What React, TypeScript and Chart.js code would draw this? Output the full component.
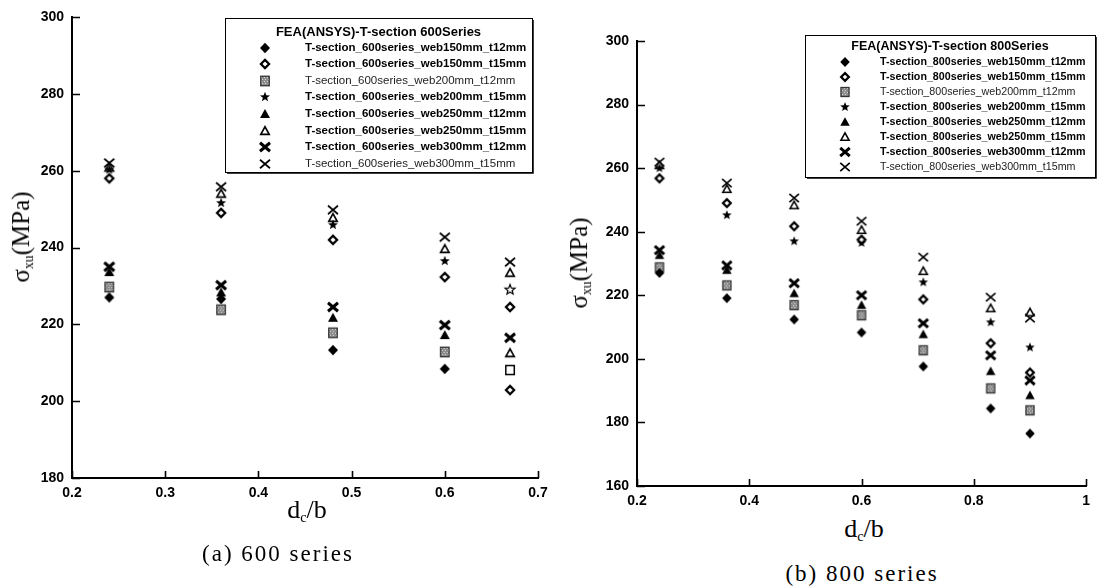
import React, { useEffect, useRef } from "react";
import { Chart, registerables } from "chart.js";

Chart.register(...registerables);

// ---- data -------------------------------------------------------------
// d_c/b positions of the analysed sections
const dcb600 = [0.24, 0.36, 0.48, 0.6, 0.67];
const dcb800 = [0.24, 0.36, 0.48, 0.6, 0.71, 0.83, 0.9];

const labels600 = [
  "T-section_600series_web150mm_t12mm",
  "T-section_600series_web150mm_t15mm",
  "T-section_600series_web200mm_t12mm",
  "T-section_600series_web200mm_t15mm",
  "T-section_600series_web250mm_t12mm",
  "T-section_600series_web250mm_t15mm",
  "T-section_600series_web300mm_t12mm",
  "T-section_600series_web300mm_t15mm",
];
const labels800 = [
  "T-section_800series_web150mm_t12mm",
  "T-section_800series_web150mm_t15mm",
  "T-section_800series_web200mm_t12mm",
  "T-section_800series_web200mm_t15mm",
  "T-section_800series_web250mm_t12mm",
  "T-section_800series_web250mm_t15mm",
  "T-section_800series_web300mm_t12mm",
  "T-section_800series_web300mm_t15mm",
];

// σxu (MPa) — 600 series
const s600_web150_t12 = [227, 226.6, 213.3, 208.4, 202.9];
const s600_web150_t15 = [258, 249, 242, 232.3, 224.5];
const s600_web200_t12 = [229.7, 223.8, 217.8, 212.8, 208.1];
const s600_web200_t15 = [260.3, 251.6, 245.9, 236.5, 229];
const s600_web250_t12 = [233.6, 228.3, 221.7, 217.2, 212.5];
const s600_web250_t15 = [260.8, 254, 247.7, 239.6, 233.4];
const s600_web300_t12 = [235, 230.2, 224.5, 219.8, 216.5];
const s600_web300_t15 = [262, 255.8, 249.8, 242.7, 236.2];

// σxu (MPa) — 800 series
const s800_web150_t12 = [227, 219.1, 212.4, 208.3, 197.6, 184.4, 176.5];
const s800_web150_t15 = [256.8, 249, 241.7, 237.5, 218.7, 204.9, 195.7];
const s800_web200_t12 = [228.8, 223.1, 216.9, 213.7, 202.7, 190.7, 183.8];
const s800_web200_t15 = [260, 245.2, 237, 236.5, 224.1, 211.5, 203.6];
const s800_web250_t12 = [232.6, 227.9, 220.6, 216.9, 207.7, 196.1, 188.5];
const s800_web250_t15 = [260.9, 253.4, 248.3, 240.5, 227.6, 215.9, 214.6];
const s800_web300_t12 = [234.2, 229.4, 223.8, 220, 211.2, 201.1, 193.2];
const s800_web300_t15 = [261.9, 255.3, 250.6, 243.3, 232, 219.4, 212.8];

const values600 = [
  s600_web150_t12, s600_web150_t15, s600_web200_t12, s600_web200_t15,
  s600_web250_t12, s600_web250_t15, s600_web300_t12, s600_web300_t15,
];
const values800 = [
  s800_web150_t12, s800_web150_t15, s800_web200_t12, s800_web200_t15,
  s800_web250_t12, s800_web250_t15, s800_web300_t12, s800_web300_t15,
];

// points of the 600 series drawn with hollow symbols
const hollowDcb600 = [0.67];

// ---- markers ----------------------------------------------------------
type Kind =
  | "diamond" | "diamondOpen" | "square" | "squareOpen" | "star" | "starOpen"
  | "triangle" | "triangleOpen" | "xBold" | "xThin";

const seriesKinds: Kind[] = [
  "diamond", "diamondOpen", "square", "star", "triangle", "triangleOpen", "xBold", "xThin",
];
const hollowOf: Partial<Record<Kind, Kind>> = {
  diamond: "diamondOpen", square: "squareOpen", star: "starOpen", triangle: "triangleOpen",
};

function drawMarker(kind: Kind, size: number): HTMLCanvasElement {
  const n = Math.ceil(size) + 6;
  const c = document.createElement("canvas");
  c.width = n;
  c.height = n;
  const g = c.getContext("2d")!;
  const cx = n / 2, cy = n / 2, r = size / 2;
  g.fillStyle = "#000";
  g.strokeStyle = "#000";
  const poly = (pts: number[][]) => {
    g.beginPath();
    pts.forEach(([x, y], i) => (i ? g.lineTo(x, y) : g.moveTo(x, y)));
    g.closePath();
  };
  switch (kind) {
    case "diamond":
      poly([[cx, cy - r * 1.05], [cx + r, cy], [cx, cy + r * 1.05], [cx - r, cy]]);
      g.fill();
      break;
    case "diamondOpen": {
      const q = r * 0.82;
      poly([[cx, cy - q], [cx + q, cy], [cx, cy + q], [cx - q, cy]]);
      g.fillStyle = "#fff";
      g.fill();
      g.lineWidth = 2.2;
      g.stroke();
      break;
    }
    case "square": {
      const w = r * 0.85, h = r * 0.95;
      g.fillStyle = "#8c8c8c";
      g.fillRect(cx - w, cy - h, 2 * w, 2 * h);
      g.fillStyle = "#d8d8d8";
      for (let y = Math.floor(cy - h) + 1; y < cy + h - 1; y += 2) {
        for (let x = Math.floor(cx - w) + 1 + (y % 4 ? 1 : 0); x < cx + w - 1; x += 3) {
          g.fillRect(x, y, 1, 1);
        }
      }
      g.strokeStyle = "#333";
      g.lineWidth = 1.3;
      g.strokeRect(cx - w, cy - h, 2 * w, 2 * h);
      break;
    }
    case "squareOpen": {
      const w = r * 0.85, h = r * 0.9;
      g.fillStyle = "#fff";
      g.fillRect(cx - w, cy - h, 2 * w, 2 * h);
      g.lineWidth = 1.5;
      g.strokeRect(cx - w, cy - h, 2 * w, 2 * h);
      break;
    }
    case "star":
    case "starOpen": {
      g.beginPath();
      for (let i = 0; i < 10; i++) {
        const a = -Math.PI / 2 + (i * Math.PI) / 5;
        const rr = i % 2 ? r * 0.45 : r * 1.05;
        const x = cx + rr * Math.cos(a), y = cy + rr * Math.sin(a);
        i ? g.lineTo(x, y) : g.moveTo(x, y);
      }
      g.closePath();
      if (kind === "star") g.fill();
      else {
        g.fillStyle = "#fff";
        g.fill();
        g.lineWidth = 1.2;
        g.stroke();
      }
      break;
    }
    case "triangle":
      poly([[cx, cy - r], [cx + r, cy + r * 0.8], [cx - r, cy + r * 0.8]]);
      g.fill();
      break;
    case "triangleOpen": {
      const q = r * 0.85;
      poly([[cx, cy - q], [cx + q, cy + q * 0.8], [cx - q, cy + q * 0.8]]);
      g.fillStyle = "#fff";
      g.fill();
      g.lineWidth = 1.6;
      g.stroke();
      break;
    }
    case "xBold":
    case "xThin": {
      g.lineWidth = kind === "xBold" ? 3 : 1.7;
      g.beginPath();
      g.moveTo(cx - r, cy - r * 0.85);
      g.lineTo(cx + r, cy + r * 0.85);
      g.moveTo(cx + r, cy - r * 0.85);
      g.lineTo(cx - r, cy + r * 0.85);
      g.stroke();
      break;
    }
  }
  return c;
}

// ---- plugins ----------------------------------------------------------
const inwardTicks = {
  id: "inwardTicks",
  afterDraw(chart: any) {
    const { ctx, chartArea, scales } = chart;
    ctx.save();
    ctx.strokeStyle = "#000";
    ctx.lineWidth = 1.6;
    ctx.beginPath();
    scales.x.ticks.forEach((t: any) => {
      const px = Math.round(scales.x.getPixelForValue(t.value)) + 0.5;
      ctx.moveTo(px, chartArea.bottom);
      ctx.lineTo(px, chartArea.bottom - 7);
    });
    scales.y.ticks.forEach((t: any) => {
      const py = Math.round(scales.y.getPixelForValue(t.value)) + 0.5;
      ctx.moveTo(chartArea.left, py);
      ctx.lineTo(chartArea.left + 8, py);
    });
    ctx.stroke();
    ctx.restore();
  },
};

interface LegendCfg {
  box: [number, number, number, number];
  title: string;
  titleFont: number;
  titleY: number;
  rowY0: number;
  rowStep: number;
  markerX: number;
  textX: number;
  textFont: number;
  markers: HTMLCanvasElement[];
}

const rowWeights = [700, 700, 400, 700, 700, 700, 700, 400];

function boxLegend(cfg: LegendCfg) {
  return {
    id: "boxLegend",
    afterDraw(chart: any) {
      const ctx = chart.ctx as CanvasRenderingContext2D;
      const [bx, by, bw, bh] = cfg.box;
      ctx.save();
      ctx.fillStyle = "#fff";
      ctx.fillRect(bx, by, bw, bh);
      ctx.strokeStyle = "#000";
      ctx.lineWidth = 1;
      ctx.strokeRect(bx + 0.5, by + 0.5, bw, bh);
      ctx.lineWidth = 1.5;
      ctx.beginPath();
      ctx.moveTo(bx + bw + 1, by + 2);
      ctx.lineTo(bx + bw + 1, by + bh + 1);
      ctx.lineTo(bx + 2, by + bh + 1);
      ctx.stroke();
      ctx.fillStyle = "#000";
      ctx.textBaseline = "middle";
      ctx.textAlign = "center";
      ctx.font = `bold ${cfg.titleFont}px "Liberation Sans", Arial, sans-serif`;
      ctx.fillText(cfg.title, bx + bw / 2, cfg.titleY);
      ctx.textAlign = "left";
      chart.data.datasets.forEach((ds: any, i: number) => {
        const y = cfg.rowY0 + i * cfg.rowStep;
        const m = cfg.markers[i];
        ctx.drawImage(m, Math.round(cfg.markerX - m.width / 2), Math.round(y - m.height / 2));
        ctx.font = `${rowWeights[i]} ${cfg.textFont}px "Liberation Sans", Arial, sans-serif`;
        ctx.fillStyle = rowWeights[i] === 400 ? "#222" : "#000";
        ctx.fillText(ds.label, cfg.textX, y);
      });
      ctx.restore();
    },
  };
}

const tickFont = { family: '"Liberation Sans", Arial, sans-serif', size: 14, weight: "bold" as const };

function buildChart(
  canvas: HTMLCanvasElement,
  xs: number[],
  series: number[][],
  labels: string[],
  markerSize: number,
  hollowXs: number[],
  x: { min: number; max: number; step: number },
  y: { min: number; max: number; step: number },
  yWidth: number,
  xHeight: number,
  padding: { top: number; right: number; left: number; bottom: number },
  legend: Omit<LegendCfg, "markers">
) {
  const cache: Record<string, HTMLCanvasElement> = {};
  const marker = (k: Kind) => (cache[k] = cache[k] || drawMarker(k, markerSize));
  const datasets = series.map((vals, i) => {
    const kind = seriesKinds[i];
    return {
      label: labels[i],
      data: vals.map((v, j) => ({ x: xs[j], y: v })),
      pointStyle: xs.map((xv) =>
        hollowXs.includes(xv) && hollowOf[kind] ? marker(hollowOf[kind]!) : marker(kind)
      ),
      pointRadius: 5,
      showLine: false,
    };
  });
  const fmtX = (v: any) => {
    const n = Number(v);
    return Math.abs(n - Math.round(n)) < 1e-9 ? String(Math.round(n)) : n.toFixed(1);
  };
  return new Chart(canvas, {
    type: "scatter",
    data: { datasets },
    options: {
      animation: false,
      responsive: false,
      events: [],
      layout: { padding },
      plugins: { legend: { display: false }, tooltip: { enabled: false } },
      scales: {
        x: {
          type: "linear",
          min: x.min,
          max: x.max,
          afterFit: (s: any) => {
            s.height = xHeight;
          },
          ticks: { stepSize: x.step, font: tickFont, color: "#000", padding: 7, callback: fmtX, maxRotation: 0 },
          grid: { drawOnChartArea: false, drawTicks: false },
          border: { display: true, color: "#000", width: 2 },
        },
        y: {
          type: "linear",
          min: y.min,
          max: y.max,
          afterFit: (s: any) => {
            s.width = yWidth;
          },
          ticks: { stepSize: y.step, font: tickFont, color: "#000", padding: 8 },
          grid: { drawOnChartArea: false, drawTicks: false },
          border: { display: true, color: "#000", width: 2 },
        },
      },
    } as any,
    plugins: [
      inwardTicks,
      boxLegend({ ...legend, markers: seriesKinds.map((k) => marker(k)) }),
    ],
  });
}

// ---- component --------------------------------------------------------
const serif = '"Liberation Serif", "Times New Roman", serif';

const yTitleStyle = (cx: number, cy: number): React.CSSProperties => ({
  position: "absolute",
  left: cx,
  top: cy,
  transform: "translate(-50%, -50%) rotate(-90deg)",
  whiteSpace: "nowrap",
  font: `25px ${serif}`,
  lineHeight: 1,
  color: "#000",
});

const centerText = (cx: number, cy: number, size: number, spacing = 0): React.CSSProperties => ({
  position: "absolute",
  left: cx,
  top: cy,
  transform: "translate(-50%, -50%)",
  whiteSpace: "nowrap",
  font: `${size}px ${serif}`,
  letterSpacing: spacing,
  lineHeight: 1,
  color: "#000",
});

const subStyle: React.CSSProperties = { fontSize: "0.55em", verticalAlign: "-0.3em" };

export default function App() {
  const leftRef = useRef<HTMLCanvasElement>(null);
  const rightRef = useRef<HTMLCanvasElement>(null);

  useEffect(() => {
    const left = buildChart(
      leftRef.current!,
      dcb600,
      values600,
      labels600,
      10,
      hollowDcb600,
      { min: 0.2, max: 0.7, step: 0.1 },
      { min: 180, max: 300, step: 20 },
      72,
      22,
      { top: 17, right: 22, left: 0, bottom: 0 },
      {
        box: [225, 18, 307, 154],
        title: "FEA(ANSYS)-T-section 600Series",
        titleFont: 13,
        titleY: 32,
        rowY0: 47.5,
        rowStep: 16.6,
        markerX: 265,
        textX: 305,
        textFont: 11.5,
      }
    );
    const right = buildChart(
      rightRef.current!,
      dcb800,
      values800,
      labels800,
      9.5,
      [],
      { min: 0.2, max: 1.0, step: 0.2 },
      { min: 160, max: 300, step: 20 },
      77,
      24,
      { top: 41, right: 2, left: 0, bottom: 0 },
      {
        box: [245, 35, 290, 142],
        title: "FEA(ANSYS)-T-section 800Series",
        titleFont: 12.5,
        titleY: 47,
        rowY0: 62,
        rowStep: 15,
        markerX: 285,
        textX: 320,
        textFont: 10.7,
      }
    );
    return () => {
      left.destroy();
      right.destroy();
    };
  }, []);

  return (
    <div
      style={{
        position: "fixed",
        left: 0,
        top: 0,
        width: 1097,
        height: 587,
        background: "#fff",
        overflow: "hidden",
      }}
    >
      <canvas
        ref={leftRef}
        width={560}
        height={500}
        style={{ position: "absolute", left: 0, top: 0, width: 560, height: 500 }}
      />
      <canvas
        ref={rightRef}
        width={537}
        height={510}
        style={{ position: "absolute", left: 560, top: 0, width: 537, height: 510 }}
      />
      <div style={yTitleStyle(22, 237)}>
        σ<sub style={subStyle}>xu</sub>(MPa)
      </div>
      <div style={yTitleStyle(580, 263)}>
        σ<sub style={subStyle}>xu</sub>(MPa)
      </div>
      <div style={centerText(307, 511, 26)}>
        d<sub style={subStyle}>c</sub>/b
      </div>
      <div style={centerText(864, 530, 26)}>
        d<sub style={subStyle}>c</sub>/b
      </div>
      <div style={centerText(278, 553, 23, 2)}>(a) 600 series</div>
      <div style={centerText(862, 573, 23, 2)}>(b) 800 series</div>
    </div>
  );
}
